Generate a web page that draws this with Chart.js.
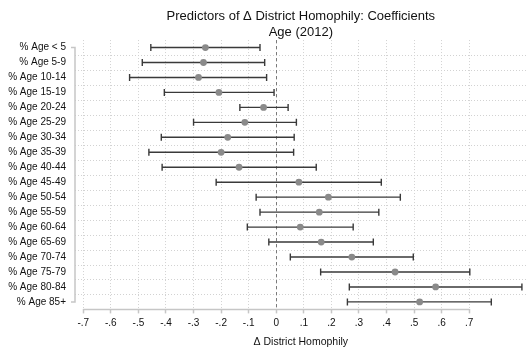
<!DOCTYPE html>
<html>
<head>
<meta charset="utf-8">
<script src="https://cdn.jsdelivr.net/npm/chart.js@4.4.1/dist/chart.umd.min.js"></script>
<style>
  html, body { margin: 0; padding: 0; background: #fff; }
  #wrap { width: 530px; height: 351px; }
</style>
</head>
<body>
<div id="wrap"><canvas id="coefChart"></canvas></div>
<script>
var ageGroups = ['% Age < 5', '% Age 5-9', '% Age 10-14', '% Age 15-19', '% Age 20-24', '% Age 25-29',
                 '% Age 30-34', '% Age 35-39', '% Age 40-44', '% Age 45-49', '% Age 50-54', '% Age 55-59',
                 '% Age 60-64', '% Age 65-69', '% Age 70-74', '% Age 75-79', '% Age 80-84', '% Age 85+'];
var coefs  = [-0.257, -0.264, -0.282, -0.208, -0.046, -0.114, -0.176, -0.200, -0.135,
               0.082,  0.189,  0.156,  0.087,  0.163,  0.274,  0.431,  0.578,  0.520];
var ciLow  = [-0.455, -0.486, -0.532, -0.406, -0.132, -0.300, -0.417, -0.462, -0.414,
              -0.218, -0.073, -0.059, -0.105, -0.027,  0.051,  0.161,  0.265,  0.258];
var ciHigh = [-0.059, -0.042, -0.035, -0.008,  0.043,  0.073,  0.065,  0.063,  0.145,
               0.381,  0.450,  0.372,  0.279,  0.352,  0.497,  0.702,  0.891,  0.780];
var xTicks = [-0.7, -0.6, -0.5, -0.4, -0.3, -0.2, -0.1, 0, 0.1, 0.2, 0.3, 0.4, 0.5, 0.6, 0.7];

var FONT = 'Liberation Sans, Arial, Helvetica, sans-serif';
var AXIS_GRAY = '#c6c6c6';

// ".3" / "-.3" style tick labels
function fmtTick(v) {
    if (Math.abs(v) < 1e-9) return '0';
    return v.toFixed(1).replace('0.', '.');
}

// grid between rows, zero line, axis brackets and confidence intervals
var coefDecor = {
    id: 'coefDecor',
    beforeDatasetsDraw: function (chart) {
        var ctx = chart.ctx, area = chart.chartArea;
        var xs = chart.scales.x, ys = chart.scales.y;
        ctx.save();

        // dotted lines between categories
        ctx.strokeStyle = '#d2d2d2';
        ctx.lineWidth = 1;
        ctx.setLineDash([1, 2]);
        for (var i = 0; i < ageGroups.length - 1; i++) {
            var gy = Math.round(ys.getPixelForValue(i + 0.5)) + 0.5;
            ctx.beginPath();
            ctx.moveTo(area.left, gy);
            ctx.lineTo(area.right, gy);
            ctx.stroke();
        }

        // reference line at zero
        var zx = Math.round(xs.getPixelForValue(0)) + 0.5;
        ctx.strokeStyle = '#7a7a7a';
        ctx.setLineDash([3, 3]);
        ctx.beginPath();
        ctx.moveTo(zx, area.top);
        ctx.lineTo(zx, area.bottom);
        ctx.stroke();
        ctx.setLineDash([]);

        // axis lines
        ctx.strokeStyle = AXIS_GRAY;
        ctx.lineWidth = 1.5;
        var yTop = ys.getPixelForValue(0), yBot = ys.getPixelForValue(ageGroups.length - 1);
        ctx.beginPath();
        ctx.moveTo(area.left - 4, yTop);
        ctx.lineTo(area.left, yTop);
        ctx.lineTo(area.left, yBot);
        ctx.lineTo(area.left - 4, yBot);
        ctx.stroke();
        ctx.beginPath();
        ctx.moveTo(xs.getPixelForValue(xTicks[0]), area.bottom);
        ctx.lineTo(xs.getPixelForValue(xTicks[xTicks.length - 1]), area.bottom);
        ctx.stroke();

        // CI whiskers with end caps
        ctx.strokeStyle = '#3a3a3a';
        ctx.lineWidth = 1.4;
        for (var j = 0; j < ageGroups.length; j++) {
            var y = ys.getPixelForValue(j);
            var x0 = xs.getPixelForValue(ciLow[j]), x1 = xs.getPixelForValue(ciHigh[j]);
            ctx.beginPath();
            ctx.moveTo(x0, y);
            ctx.lineTo(x1, y);
            ctx.moveTo(x0, y - 3.5);
            ctx.lineTo(x0, y + 3.5);
            ctx.moveTo(x1, y - 3.5);
            ctx.lineTo(x1, y + 3.5);
            ctx.stroke();
        }
        ctx.restore();
    }
};

new Chart(document.getElementById('coefChart'), {
    type: 'scatter',
    data: {
        datasets: [{
            label: 'Coefficient',
            data: coefs.map(function (c, i) { return {x: c, y: i}; }),
            pointRadius: 3.4,
            pointHoverRadius: 3.4,
            pointBackgroundColor: '#8a8a8a',
            pointBorderColor: '#8a8a8a',
            pointBorderWidth: 0
        }]
    },
    options: {
        responsive: true,
        maintainAspectRatio: false,
        animation: false,
        layout: { padding: { left: 7, right: 0, top: 0, bottom: 0 } },
        scales: {
            x: {
                type: 'linear',
                min: -0.73,
                max: 0.908,
                afterBuildTicks: function (scale) {
                    scale.ticks = xTicks.map(function (v) { return {value: v}; });
                },
                ticks: {
                    autoSkip: false,
                    maxRotation: 0,
                    padding: 4,
                    color: '#111',
                    font: { family: FONT, size: 10 },
                    callback: function (v) { return fmtTick(v); }
                },
                grid: {
                    color: '#d2d2d2',
                    lineWidth: 1,
                    drawTicks: true,
                    tickLength: 4,
                    tickColor: AXIS_GRAY,
                    tickWidth: 1.5,
                    tickBorderDash: []
                },
                border: { display: false, dash: [1, 2] },
                title: {
                    display: true,
                    text: 'Δ District Homophily',
                    color: '#111',
                    font: { family: FONT, size: 10.5 },
                    padding: { top: 2, bottom: 3 }
                }
            },
            y: {
                type: 'linear',
                reverse: true,
                min: -0.5,
                max: ageGroups.length - 0.5,
                afterBuildTicks: function (scale) {
                    scale.ticks = ageGroups.map(function (_, i) { return {value: i}; });
                },
                afterFit: function (scale) { scale.width = 68; },
                ticks: {
                    autoSkip: false,
                    padding: 9,
                    color: '#111',
                    font: { family: FONT, size: 10 },
                    callback: function (v) { return ageGroups[v]; }
                },
                grid: { display: false, drawTicks: false },
                border: { display: false }
            }
        },
        plugins: {
            legend: { display: false },
            tooltip: { enabled: false },
            title: {
                display: true,
                fullSize: false,
                text: 'Predictors of Δ District Homophily: Coefficients',
                color: '#111',
                font: { family: FONT, size: 13, weight: 'normal' },
                padding: { top: 8.5, bottom: 0 }
            },
            subtitle: {
                display: true,
                fullSize: false,
                text: 'Age (2012)',
                color: '#111',
                font: { family: FONT, size: 13, weight: 'normal', lineHeight: 1.15 },
                padding: { top: 1, bottom: 0 }
            }
        }
    },
    plugins: [coefDecor]
});
</script>
</body>
</html>
